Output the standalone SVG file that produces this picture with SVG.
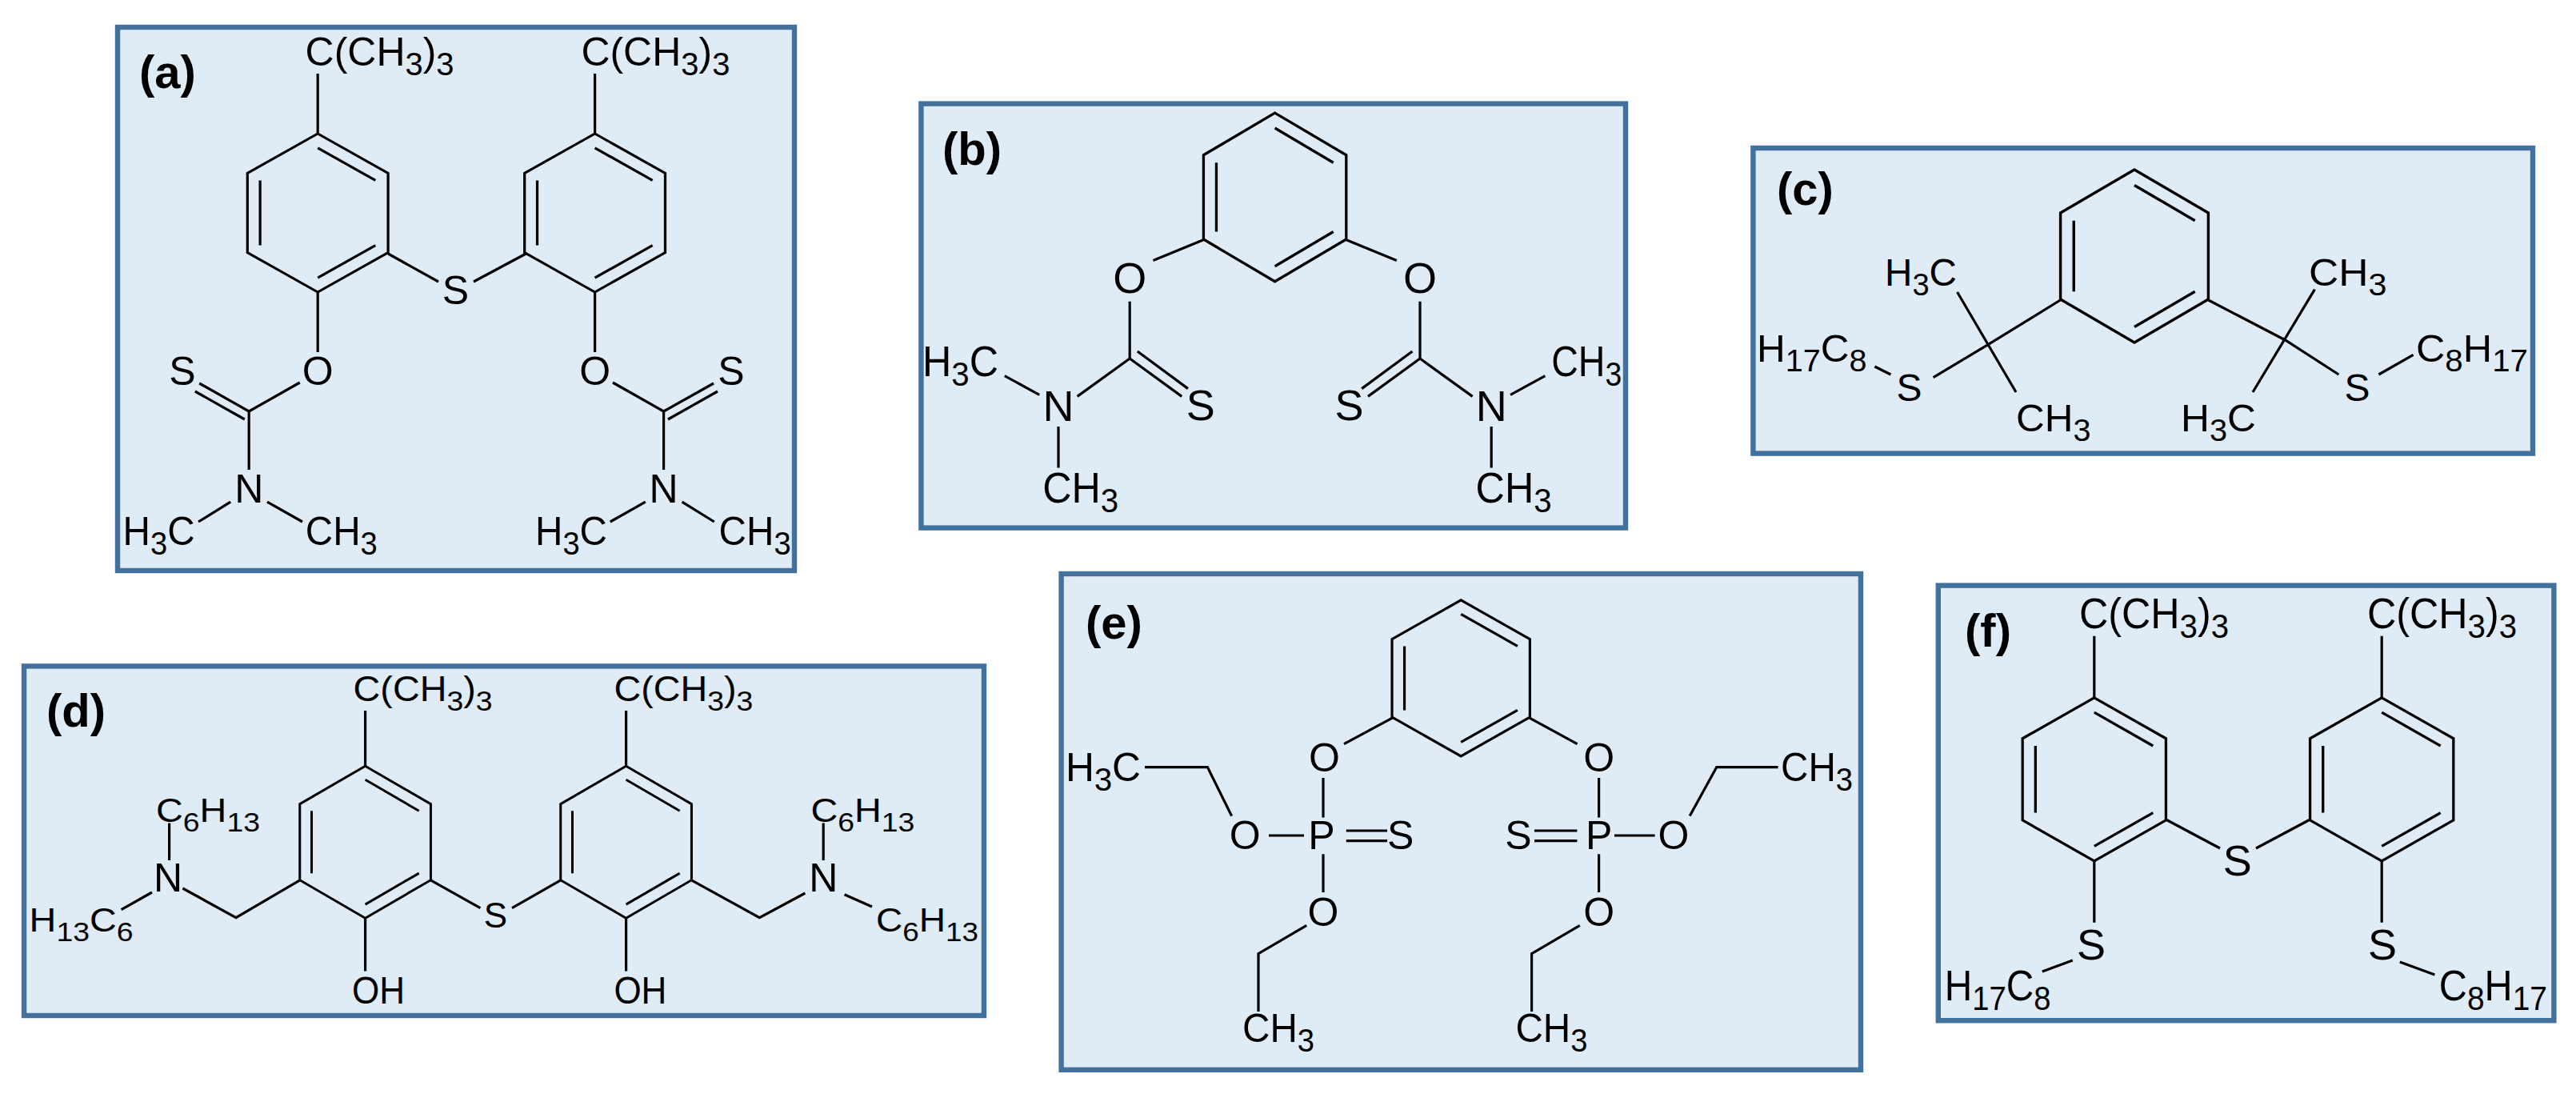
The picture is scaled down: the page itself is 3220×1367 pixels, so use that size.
<svg xmlns="http://www.w3.org/2000/svg" xmlns:xlink="http://www.w3.org/1999/xlink" width="3220" height="1367" viewBox="0 0 3220 1367">
<style>
.bx{fill:#dfebf5;stroke:#41719c;stroke-width:3.2}
.l{fill:none;stroke:#000;stroke-width:1.6;stroke-linecap:butt}
text{font-family:"Liberation Sans",Arial,sans-serif;fill:#000}
.lab{font-weight:bold;font-size:29px}
.s{font-size:80%}
.m{text-anchor:middle}
</style>
<defs>
<g id="ring" class="l">
<path d="M0,-50 L43.3,-25 L43.3,25 L0,50 L-43.3,25 L-43.3,-25 Z"/>
<path d="M-35.5,-20.5 L-35.5,20.5 M0,-41 L35.5,-20.5 M35.5,20.5 L0,41"/>
</g>
</defs>
<rect width="3220" height="1367" fill="#fff"/>
<g transform="scale(2)">
<g id="boxes">
<rect class="bx" x="73.5" y="17" width="423" height="339.5"/>
<rect class="bx" x="575.7" y="64.8" width="440.3" height="265"/>
<rect class="bx" x="1095.7" y="92.5" width="487.3" height="190.8"/>
<rect class="bx" x="15" y="416.2" width="600" height="218.3"/>
<rect class="bx" x="663.3" y="358.5" width="499.7" height="309.9"/>
<rect class="bx" x="1211.4" y="365.8" width="384.8" height="271.8"/>
</g>

<g id="a" font-size="25">
<text class="lab" x="87" y="55">(a)</text>
<use href="#ring" transform="translate(198.6,133) scale(1.015,0.99)"/>
<use href="#ring" transform="translate(371.8,133) scale(1.015,0.99)"/>
<path class="l" d="M198.6,83.7V46 M371.8,83.7V46 M242.6,158.5L274,176 M296,176L328.7,158.5 M371.8,182V220 M198.6,182V220
M383,239L414.8,257 M414.8,257L446,239.5 M417.5,262L448.5,244.5 M414.8,257V293.5 M403.4,313.6L381.4,326 M426.3,313.6L446.4,326
M187.4,239L155.6,257 M155.6,257L124.6,239.5 M152.9,262L121.9,244.5 M155.6,257V293.5 M167,313.6L189,326 M144.1,313.6L124,326"/>
<text x="190.8" y="41" textLength="93" lengthAdjust="spacingAndGlyphs">C(CH<tspan class="s" dy="6">3</tspan><tspan dy="-6">)</tspan><tspan class="s" dy="6">3</tspan></text>
<text x="363.2" y="41" textLength="93" lengthAdjust="spacingAndGlyphs">C(CH<tspan class="s" dy="6">3</tspan><tspan dy="-6">)</tspan><tspan class="s" dy="6">3</tspan></text>
<text class="m" x="284.7" y="190">S</text>
<text class="m" x="371.8" y="240.5">O</text>
<text class="m" x="198.6" y="240.5">O</text>
<text class="m" x="457" y="240.5">S</text>
<text class="m" x="114" y="240.5">S</text>
<text class="m" x="414.8" y="314">N</text>
<text class="m" x="155.6" y="314">N</text>
<text x="76.8" y="340.4" textLength="45" lengthAdjust="spacingAndGlyphs">H<tspan class="s" dy="6">3</tspan><tspan dy="-6">C</tspan></text>
<text x="190.9" y="340.4" textLength="45" lengthAdjust="spacingAndGlyphs">CH<tspan class="s" dy="6">3</tspan></text>
<text x="334.5" y="340.4" textLength="45" lengthAdjust="spacingAndGlyphs">H<tspan class="s" dy="6">3</tspan><tspan dy="-6">C</tspan></text>
<text x="449.3" y="340.4" textLength="45" lengthAdjust="spacingAndGlyphs">CH<tspan class="s" dy="6">3</tspan></text>
</g>

<g id="b" font-size="27">
<text class="lab" x="589" y="103">(b)</text>
<use href="#ring" transform="translate(796.8,123.2) scale(1.03,1.053)"/>
<path class="l" d="M752.4,149.8L720.7,162.7 M706.1,188.4V224 M706.1,224L738.6,247.7 M710.9,219.5L742.5,242.8 M706.1,224L673.3,247.7 M649.6,246.7L627.9,234.8 M661.5,266.5V292.2
M841.2,149.8L872.9,162.7 M887.5,188.4V224 M887.5,224L855,247.7 M882.7,219.5L851.1,242.8 M887.5,224L920.3,247.7 M944,246.7L965.7,234.8 M932.1,266.5V292.2"/>
<text class="m" x="706.1" y="183">O</text>
<text class="m" x="887.5" y="183">O</text>
<text class="m" x="750.4" y="262.5">S</text>
<text class="m" x="843.2" y="262.5">S</text>
<text class="m" x="661.5" y="263">N</text>
<text class="m" x="932.1" y="263">N</text>
<text x="576.5" y="235" textLength="47.5" lengthAdjust="spacingAndGlyphs">H<tspan class="s" dy="6">3</tspan><tspan dy="-6">C</tspan></text>
<text x="969.6" y="235" textLength="44" lengthAdjust="spacingAndGlyphs">CH<tspan class="s" dy="6">3</tspan></text>
<text x="651.6" y="314" textLength="47.5" lengthAdjust="spacingAndGlyphs">CH<tspan class="s" dy="6">3</tspan></text>
<text x="922.3" y="314" textLength="47.5" lengthAdjust="spacingAndGlyphs">CH<tspan class="s" dy="6">3</tspan></text>
</g>

<g id="c" font-size="24">
<text class="lab" x="1110.5" y="128">(c)</text>
<use href="#ring" transform="translate(1334,160) scale(1.067,1.08)"/>
<path class="l" d="M1287.7,187.5L1241.7,215.8L1208.3,235.8 M1223.3,182.5L1260,245 M1181.7,234L1171.7,229
M1380.3,187.5L1428.3,212.5L1461.7,234 M1446.7,180.8L1408,245 M1486.7,234L1508.3,221.7"/>
<text class="m" x="1193.3" y="250.5">S</text>
<text class="m" x="1473.3" y="250.5">S</text>
<text x="1178" y="178.5" textLength="45" lengthAdjust="spacingAndGlyphs">H<tspan class="s" dy="6">3</tspan><tspan dy="-6">C</tspan></text>
<text x="1260" y="269.5" textLength="46.7" lengthAdjust="spacingAndGlyphs">CH<tspan class="s" dy="6">3</tspan></text>
<text x="1098" y="226" textLength="68.7" lengthAdjust="spacingAndGlyphs">H<tspan class="s" dy="6">17</tspan><tspan dy="-6">C</tspan><tspan class="s" dy="6">8</tspan></text>
<text x="1443" y="178.5" textLength="48.7" lengthAdjust="spacingAndGlyphs">CH<tspan class="s" dy="6">3</tspan></text>
<text x="1363" y="269.5" textLength="47" lengthAdjust="spacingAndGlyphs">H<tspan class="s" dy="6">3</tspan><tspan dy="-6">C</tspan></text>
<text x="1510" y="226" textLength="70" lengthAdjust="spacingAndGlyphs">C<tspan class="s" dy="6">8</tspan><tspan dy="-6">H</tspan><tspan class="s" dy="6">17</tspan></text>
</g>

<g id="d" font-size="25">
<text class="lab" x="29" y="454">(d)</text>
<use href="#ring" transform="translate(228.3,526.1) scale(0.945,0.95)"/>
<use href="#ring" transform="translate(391.3,526.1) scale(0.945,0.95)"/>
<path class="l" d="M228.3,478.6V444 M391.3,478.6V444 M228.3,573.6V606.8 M391.3,573.6V606.8
M269.2,549.9L300.2,567.3 M350.4,549.9L320,567.3
M187.4,549.9L147.5,573.3L114.2,555 M105.8,537.5V514.2 M95,557.5L75.8,568.3
M432.2,549.9L474.7,573.3L503.2,558 M514.6,537.5V514.2 M527.8,558.9L545,566.5"/>
<text x="220.8" y="438" font-size="22" textLength="87" lengthAdjust="spacingAndGlyphs">C(CH<tspan class="s" dy="6">3</tspan><tspan dy="-6">)</tspan><tspan class="s" dy="6">3</tspan></text>
<text x="383.7" y="438" font-size="22" textLength="87" lengthAdjust="spacingAndGlyphs">C(CH<tspan class="s" dy="6">3</tspan><tspan dy="-6">)</tspan><tspan class="s" dy="6">3</tspan></text>
<text x="220" y="627" font-size="24" textLength="33" lengthAdjust="spacingAndGlyphs">OH</text>
<text x="383.7" y="627" font-size="24" textLength="33" lengthAdjust="spacingAndGlyphs">OH</text>
<text class="m" x="309.7" y="579.5" font-size="22">S</text>
<text class="m" x="105" y="557">N</text>
<text class="m" x="514.6" y="557">N</text>
<text x="97.5" y="513.5" font-size="21" textLength="65" lengthAdjust="spacingAndGlyphs">C<tspan class="s" dy="6">6</tspan><tspan dy="-6">H</tspan><tspan class="s" dy="6">13</tspan></text>
<text x="506.7" y="513.5" font-size="21" textLength="65" lengthAdjust="spacingAndGlyphs">C<tspan class="s" dy="6">6</tspan><tspan dy="-6">H</tspan><tspan class="s" dy="6">13</tspan></text>
<text x="18.3" y="582" font-size="21" textLength="65" lengthAdjust="spacingAndGlyphs">H<tspan class="s" dy="6">13</tspan><tspan dy="-6">C</tspan><tspan class="s" dy="6">6</tspan></text>
<text x="547.5" y="582" font-size="21" textLength="64" lengthAdjust="spacingAndGlyphs">C<tspan class="s" dy="6">6</tspan><tspan dy="-6">H</tspan><tspan class="s" dy="6">13</tspan></text>
</g>

<g id="e" font-size="25">
<text class="lab" x="678.5" y="399">(e)</text>
<use href="#ring" transform="translate(913.1,423.7) scale(0.995,0.975)"/>
<path class="l" d="M870.2,448.6L840,464.8 M827,486V510.8 M841.4,519H867 M841.4,525.3H867 M793,522H815 M769.8,509.8L754.7,479.3H715.5 M827,533.6V557.5 M816.6,578.2L786.5,595.8V632
M956,448.6L985.8,464.8 M999.3,486V510.8 M959,519H985.7 M959,525.3H985.7 M1009,522H1034.3 M1056.1,509.8L1072.9,479.3H1111.3 M999.3,533.6V557.5 M987.4,578.2L957.3,595.8V632"/>
<text class="m" x="827.7" y="482">O</text>
<text class="m" x="826" y="530.5">P</text>
<text class="m" x="875.3" y="530.5">S</text>
<text class="m" x="778.1" y="530.5">O</text>
<text class="m" x="827" y="578.5">O</text>
<text x="666" y="488" textLength="47" lengthAdjust="spacingAndGlyphs">H<tspan class="s" dy="6">3</tspan><tspan dy="-6">C</tspan></text>
<text x="776.5" y="651" textLength="45" lengthAdjust="spacingAndGlyphs">CH<tspan class="s" dy="6">3</tspan></text>
<text class="m" x="999.3" y="482">O</text>
<text class="m" x="999.3" y="530.5">P</text>
<text class="m" x="949" y="530.5">S</text>
<text class="m" x="1046" y="530.5">O</text>
<text class="m" x="999.3" y="578.5">O</text>
<text x="1113" y="488" textLength="45" lengthAdjust="spacingAndGlyphs">CH<tspan class="s" dy="6">3</tspan></text>
<text x="947.2" y="651" textLength="45" lengthAdjust="spacingAndGlyphs">CH<tspan class="s" dy="6">3</tspan></text>
</g>

<g id="f" font-size="27">
<text class="lab" x="1228" y="404">(f)</text>
<use href="#ring" transform="translate(1308.9,486.9) scale(1.035,1.02)"/>
<use href="#ring" transform="translate(1488.6,486.9) scale(1.035,1.02)"/>
<path class="l" d="M1308.9,436V397.4 M1488.6,436V397.4 M1353.7,512L1387.5,530 M1410,530L1443.8,512
M1308.9,537.8V576.4 M1295.4,600L1276.4,607 M1488.6,537.8V576.4 M1499.9,601L1521.7,609"/>
<text x="1299.5" y="392.5" textLength="93.5" lengthAdjust="spacingAndGlyphs">C(CH<tspan class="s" dy="6">3</tspan><tspan dy="-6">)</tspan><tspan class="s" dy="6">3</tspan></text>
<text x="1479.5" y="392.5" textLength="93.5" lengthAdjust="spacingAndGlyphs">C(CH<tspan class="s" dy="6">3</tspan><tspan dy="-6">)</tspan><tspan class="s" dy="6">3</tspan></text>
<text class="m" x="1398.4" y="547">S</text>
<text class="m" x="1307" y="599.5">S</text>
<text class="m" x="1489" y="599.5">S</text>
<text x="1215.4" y="625" textLength="66.4" lengthAdjust="spacingAndGlyphs">H<tspan class="s" dy="6">17</tspan><tspan dy="-6">C</tspan><tspan class="s" dy="6">8</tspan></text>
<text x="1524.4" y="625" textLength="67.6" lengthAdjust="spacingAndGlyphs">C<tspan class="s" dy="6">8</tspan><tspan dy="-6">H</tspan><tspan class="s" dy="6">17</tspan></text>
</g>
</g>
</svg>
